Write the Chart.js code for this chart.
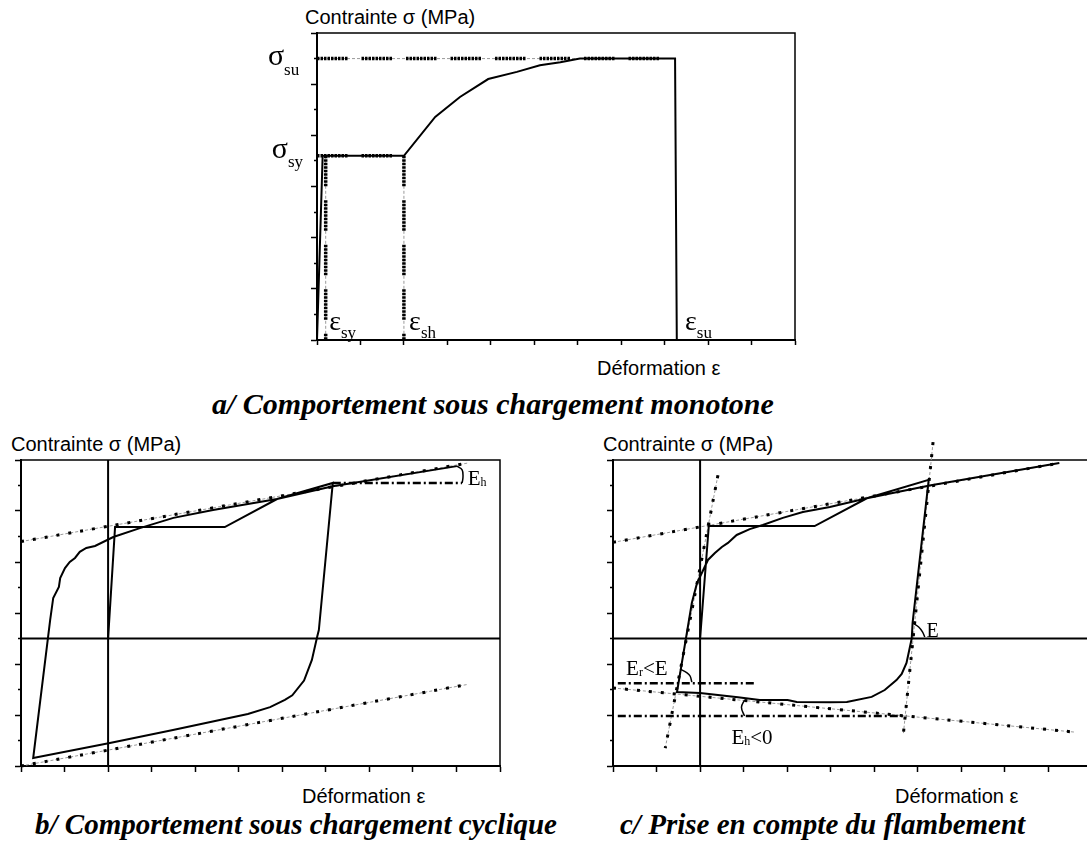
<!DOCTYPE html>
<html>
<head>
<meta charset="utf-8">
<script src="https://cdn.jsdelivr.net/npm/chart.js@4.4.1/dist/chart.umd.min.js"></script>
<style>
  html, body { margin: 0; padding: 0; background: #fff; overflow: hidden; width: 1087px; height: 845px; position: relative; }
  canvas { position: absolute; }
  .lbl { position: absolute; font-family: "Liberation Sans", Arial, sans-serif; font-size: 20px; line-height: 20px; white-space: nowrap; color: #000; }
  .cap { position: absolute; font-family: "Liberation Serif", "Times New Roman", serif; font-size: 29px; line-height: 30px; font-weight: bold; font-style: italic; white-space: nowrap; color: #000; }
</style>
</head>
<body>
<div class="lbl" style="left:305px;top:7px">Contrainte σ (MPa)</div>
<div class="lbl" style="left:597px;top:358px">Déformation ε</div>
<div class="cap" style="left:212px;top:389px;font-size:30px">a/ Comportement sous chargement monotone</div>

<div class="lbl" style="left:11px;top:434px">Contrainte σ (MPa)</div>
<div class="lbl" style="left:603px;top:434px">Contrainte σ (MPa)</div>
<div class="lbl" style="left:302px;top:786px">Déformation ε</div>
<div class="lbl" style="left:895px;top:786px">Déformation ε</div>
<div class="cap" style="left:35px;top:809px">b/ Comportement sous chargement cyclique</div>
<div class="cap" style="left:620px;top:809px">c/ Prise en compte du flambement</div>

<canvas id="chartA" width="585" height="340" style="left:220px;top:20px"></canvas>
<canvas id="chartB" width="515" height="356" style="left:0px;top:430px"></canvas>
<canvas id="chartC" width="502" height="356" style="left:595px;top:430px"></canvas>

<script>
// ---- a/ chargement monotone (deformation, contrainte) ----
const monoDef  = [0, 0.13, 2.0, 2.72, 3.29, 3.94, 4.6, 5.13, 5.6, 6.05, 8.24, 8.28];
const monoCont = [0, 3.6, 3.6, 4.36, 4.75, 5.1, 5.24, 5.37, 5.43, 5.5, 5.5, 0];
const sigSuDef = [0, 8.0],  sigSuCont = [5.5, 5.5];
const sigSyDef = [0, 2.0],  sigSyCont = [3.6, 3.6];
const epsSyDef = [0.2, 0.2], epsSyCont = [3.6, 0];
const epsShDef = [2.0, 2.0], epsShCont = [3.6, 0];

// ---- b/ chargement cyclique ----
const cycDef  = [2.0, 2.16, 4.68, 5.88, 7.16, 6.84, 6.8, 6.68, 6.5, 6.23, 6.06, 5.72, 5.21, 3.49, 2.04, 0.28,
                 0.67, 0.74, 0.87, 0.9, 1.01, 1.12, 1.24, 1.35, 1.5, 1.7, 2.12, 2.73, 3.5, 4.41, 5.88, 7.16, 10.01];
const cycCont = [5.0, 9.37, 9.37, 10.47, 11.1, 5.33, 5.06, 4.16, 3.35, 2.77, 2.59, 2.31, 2.04, 1.41, 0.9, 0.31,
                 5.73, 6.59, 7.02, 7.37, 7.76, 8.0, 8.16, 8.4, 8.55, 8.63, 8.98, 9.33, 9.73, 10.04, 10.47, 10.97, 11.76];
const bHautDef = [0, 10.26],  bHautCont = [8.8, 11.88];
const bBasDef  = [0, 10.26],  bBasCont  = [0, 3.2];
const bEhDef   = [7.16, 10.13], bEhCont = [11.1, 11.1];
const bAccDef  = [10.01, 10.13, 10.15, 10.13], bAccCont = [11.76, 11.61, 11.33, 11.1];

// ---- c/ flambement ----
const flaDef  = [2.0, 2.2, 4.63, 5.83, 7.25, 6.88, 6.86, 6.74, 6.63, 6.51, 6.24, 5.94, 5.37, 4.98, 4.22, 4.01, 3.37,
                 2.87, 2.0, 1.47, 1.81, 1.93, 2.04, 2.18, 2.34, 2.5, 2.64, 2.84, 3.14, 3.44, 3.9, 4.36, 4.98, 5.83, 7.27, 10.25];
const flaCont = [5.0, 9.41, 9.41, 10.5, 11.22, 5.61, 5.0, 4.04, 3.61, 3.37, 2.98, 2.71, 2.51, 2.5, 2.51, 2.59, 2.59,
                 2.7, 2.86, 2.9, 6.39, 7.18, 7.57, 8.08, 8.35, 8.59, 8.75, 9.06, 9.29, 9.45, 9.73, 9.96, 10.16, 10.5, 11.0, 11.88];
const cHautDef = [0, 10.25],  cHautCont = [8.77, 11.88];
const cBasDef  = [0, 10.6],   cBasCont  = [3.06, 1.33];
const cEgDef   = [2.41, 1.2], cEgCont   = [11.4, 0.7];
const cEdDef   = [7.35, 6.67], cEdCont  = [12.7, 1.29];
const cErDef   = [0.11, 3.3], cErCont   = [3.25, 3.25];
const cEhDef   = [0.11, 6.74], cEhCont  = [1.96, 1.96];
const cArcErDef = [1.54, 1.7, 1.77, 1.81], cArcErCont = [3.8, 3.65, 3.53, 3.29];
const cArcEhDef = [3.02, 2.95, 3.02],     cArcEhCont = [2.59, 2.3, 1.96];
const cArcEDef  = [6.88, 7.02, 7.11, 7.16], cArcECont = [5.61, 5.45, 5.25, 5.06];

// axes : zero et origine des cycles
const zeroDef = [0, 11], zeroCont = [5, 5];
const origDef = [2, 2],  origCont = [0, 12];

function pts(xs, ys) {
  return xs.map((x, i) => ({ x: x, y: ys[i] }));
}

// styles de traits
const heavyDot = [];
for (let i = 0; i < 9; i++) heavyDot.push(2.5, 1);
heavyDot.push(0, 13);

function solid(xs, ys, w) {
  return { data: pts(xs, ys), borderColor: '#000', borderWidth: w || 2, showLine: true, pointRadius: 0, clip: false };
}
function courbe(xs, ys, w) {
  const d = solid(xs, ys, w); d.tension = 0.4; return d;
}
function pointille(xs, ys) {
  return { data: pts(xs, ys), borderColor: '#000', borderWidth: 3, borderDash: [3, 9], showLine: true, pointRadius: 0, clip: false };
}
function gris(xs, ys) {
  return { data: pts(xs, ys), borderColor: '#9a9a9a', borderWidth: 1, borderDash: [3, 2], showLine: true, pointRadius: 0, clip: false };
}
function epais(xs, ys) {
  return { data: pts(xs, ys), borderColor: '#000', borderWidth: 3.5, borderDash: heavyDot, showLine: true, pointRadius: 0, clip: false };
}
function tiretPoint(xs, ys) {
  return { data: pts(xs, ys), borderColor: '#000', borderWidth: 2.5, borderDash: [8, 3, 2, 3], showLine: true, pointRadius: 0, clip: false };
}

// cadre haut + droit
const cadre = {
  id: 'cadre',
  beforeDatasetsDraw(chart) {
    const a = chart.chartArea, ctx = chart.ctx;
    ctx.save();
    ctx.strokeStyle = '#000';
    ctx.lineWidth = 1.5;
    ctx.beginPath();
    ctx.moveTo(a.left, a.top);
    ctx.lineTo(a.right, a.top);
    ctx.lineTo(a.right, a.bottom);
    ctx.stroke();
    ctx.restore();
  }
};

// texte des annotations (positions en unites des axes)
function etiquettes(items) {
  return {
    id: 'etiquettes',
    afterDatasetsDraw(chart) {
      const ctx = chart.ctx, sx = chart.scales.x, sy = chart.scales.y;
      ctx.save();
      ctx.fillStyle = '#000';
      ctx.textBaseline = 'alphabetic';
      items.forEach(it => {
        let px = sx.getPixelForValue(it.x);
        const py = sy.getPixelForValue(it.y);
        ctx.font = it.size + 'px "Liberation Serif", "Times New Roman", serif';
        ctx.fillText(it.main, px, py);
        px += ctx.measureText(it.main).width;
        if (it.sub) {
          ctx.font = it.subSize + 'px "Liberation Serif", "Times New Roman", serif';
          ctx.fillText(it.sub, px, py + it.drop);
          px += ctx.measureText(it.sub).width;
        }
        if (it.tail) {
          ctx.font = it.size + 'px "Liberation Serif", "Times New Roman", serif';
          ctx.fillText(it.tail, px, py);
        }
      });
      ctx.restore();
    }
  };
}

function axes(yMax, yStep, isLong, xTick, yLong) {
  return {
    x: {
      type: 'linear', min: 0, max: 11,
      afterFit: s => { s.height = 10; },
      ticks: { display: false, stepSize: 1 },
      grid: { drawOnChartArea: false, drawTicks: true, tickLength: xTick, tickWidth: 1.5, tickColor: '#000' },
      border: { display: true, color: '#000', width: 2 }
    },
    y: {
      type: 'linear', min: 0, max: yMax,
      afterFit: s => { s.width = 10; },
      ticks: { display: false, stepSize: yStep },
      grid: {
        drawOnChartArea: false, drawTicks: true, tickLength: yLong, tickWidth: 1.5, tickColor: '#000',
        tickBorderDash: ctx => (ctx.tick && isLong(ctx.tick.value)) ? [] : [0, yLong / 2, yLong / 2, 40]
      },
      border: { display: true, color: '#000', width: 2 }
    }
  };
}

function makeChart(canvas, datasets, scales, padding, items) {
  return new Chart(canvas, {
    type: 'scatter',
    data: { datasets: datasets },
    options: {
      responsive: false,
      animation: false,
      events: [],
      layout: { padding: padding },
      plugins: { legend: { display: false }, tooltip: { enabled: false } },
      scales: scales
    },
    plugins: [cadre, etiquettes(items)]
  });
}

// a/
makeChart(document.getElementById('chartA'), [
  epais(sigSuDef, sigSuCont),
  epais(sigSyDef, sigSyCont),
  epais(epsSyDef, epsSyCont),
  epais(epsShDef, epsShCont),
  solid(monoDef, monoCont, 2),
  gris(sigSuDef, sigSuCont),
  gris(epsSyDef, epsSyCont),
  gris(epsShDef, epsShCont)
], axes(6, 0.5, v => Number.isInteger(v), 5, 6), { left: 87, top: 13, right: 10, bottom: 10 }, [
  { x: -1.13, y: 5.37, main: 'σ', sub: 'su', size: 30, subSize: 17, drop: 10 },
  { x: -1.04, y: 3.56, main: 'σ', sub: 'sy', size: 30, subSize: 17, drop: 9 },
  { x: 0.28, y: 0.2, main: 'ε', sub: 'sy', size: 28, subSize: 17, drop: 8 },
  { x: 2.12, y: 0.2, main: 'ε', sub: 'sh', size: 28, subSize: 17, drop: 8 },
  { x: 8.47, y: 0.2, main: 'ε', sub: 'su', size: 28, subSize: 17, drop: 8 }
]);

// b/
makeChart(document.getElementById('chartB'), [
  solid(cycDef, cycCont, 2),
  solid(zeroDef, zeroCont, 2),
  solid(origDef, origCont, 2),
  courbe(bAccDef, bAccCont, 1.5),
  tiretPoint(bEhDef, bEhCont),
  pointille(bHautDef, bHautCont),
  pointille(bBasDef, bBasCont),
  gris(bHautDef, bHautCont),
  gris(bBasDef, bBasCont)
], axes(12, 1, v => v % 2 === 0, 6, 6), { left: 11, top: 30, right: 15, bottom: 10 }, [
  { x: 10.26, y: 11.02, main: 'E', sub: 'h', size: 21, subSize: 12, drop: 1 }
]);

// c/
makeChart(document.getElementById('chartC'), [
  solid(flaDef, flaCont, 2),
  solid(zeroDef, zeroCont, 2),
  solid(origDef, origCont, 2),
  courbe(cArcErDef, cArcErCont, 1.5),
  courbe(cArcEhDef, cArcEhCont, 1.5),
  courbe(cArcEDef, cArcECont, 1.5),
  tiretPoint(cErDef, cErCont),
  tiretPoint(cEhDef, cEhCont),
  pointille(cHautDef, cHautCont),
  pointille(cBasDef, cBasCont),
  pointille(cEgDef, cEgCont),
  pointille(cEdDef, cEdCont),
  gris(cHautDef, cHautCont),
  gris(cBasDef, cBasCont),
  gris(cEgDef, cEgCont),
  gris(cEdDef, cEdCont)
], axes(12, 1, v => v % 2 === 0, 6, 6), { left: 8, top: 30, right: 5, bottom: 10 }, [
  { x: 0.3, y: 3.57, main: 'E', sub: 'r', tail: '<E', size: 21, subSize: 12, drop: 1 },
  { x: 2.72, y: 0.88, main: 'E', sub: 'h', tail: '<0', size: 21, subSize: 12, drop: 1 },
  { x: 7.2, y: 5.06, main: 'E', size: 20 }
]);
</script>
</body>
</html>
